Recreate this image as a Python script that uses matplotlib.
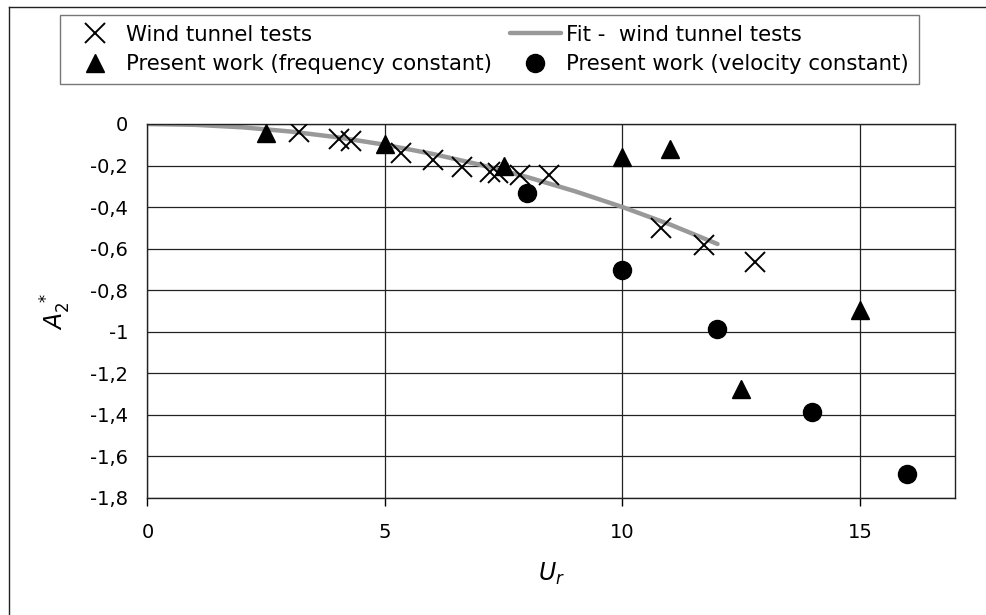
import matplotlib.pyplot as plt
from matplotlib.lines import Line2D

# Wind tunnel tests
wind_x = [3.18, 4.03, 4.28, 5.33, 6.02, 6.63, 7.22, 7.38, 7.84, 8.45, 10.82, 11.71, 12.8]
wind_y = [-0.04, -0.074, -0.08, -0.141, -0.173, -0.205, -0.23, -0.235, -0.246, -0.246, -0.50, -0.585, -0.665]

# Fit - wind tunnel tests
fit_x = [0, 1, 2, 3, 4, 5, 6, 7, 8, 9, 10, 11, 12]
fit_y = [0, -0.004, -0.016, -0.036, -0.064, -0.10, -0.144, -0.196, -0.256, -0.324, -0.40, -0.484, -0.578]

# Present work (frequency constant)
freq_x = [2.5, 5.0, 7.5, 10.0, 11.0, 12.5, 15.0]
freq_y = [-0.045, -0.098, -0.20, -0.157, -0.122, -1.278, -0.896]

# Present work (velocity constant)
vel_x = [8.0, 10.0, 12.0, 14.0, 16.0]
vel_y = [-0.334, -0.705, -0.986, -1.389, -1.688]

x_ticks = [0, 5, 10, 15]
y_ticks = [0, -0.2, -0.4, -0.6, -0.8, -1.0, -1.2, -1.4, -1.6, -1.8]
y_labels = ["0", "-0,2", "-0,4", "-0,6", "-0,8", "-1", "-1,2", "-1,4", "-1,6", "-1,8"]

plt.rcParams['font.family'] = 'DejaVu Sans'
W, H = 987, 615
fig = plt.figure(figsize=(W / 100, H / 100), dpi=100)
ax = fig.add_axes([147.5 / W, 1 - 497.7 / H, (955 - 147.5) / W, (497.7 - 124) / H])

fs = 14

fit_line, = ax.plot(fit_x, fit_y, color='#999999', linewidth=3.2, solid_capstyle='round', zorder=2)
wind_pts, = ax.plot(wind_x, wind_y, linestyle='none', marker='x', markersize=15,
                    markeredgewidth=1.4, color='black', zorder=3)
freq_pts, = ax.plot(freq_x, freq_y, linestyle='none', marker='^', markersize=12.5,
                    color='black', zorder=3)
vel_pts, = ax.plot(vel_x, vel_y, linestyle='none', marker='o', markersize=13,
                   color='black', zorder=3)

ax.set_xlim(0, 17)
ax.set_ylim(-1.8, 0)
ax.set_xticks(x_ticks)
ax.set_xticklabels([str(v) for v in x_ticks], fontsize=fs)
ax.set_yticks(y_ticks)
ax.set_yticklabels(y_labels, fontsize=fs)
ax.tick_params(axis='x', direction='out', length=6, width=1, pad=12)
ax.tick_params(axis='y', length=0, pad=14)

ax.grid(True, color='#222222', linewidth=0.9)
ax.set_axisbelow(True)
for s in ax.spines.values():
    s.set_color('#222222')
    s.set_linewidth(1)

ax.set_xlabel('$U_r$', fontsize=17, labelpad=14)
ax.set_ylabel('$A_2^{\\ *}$', fontsize=17, labelpad=12)

# legend, two columns
handles = [wind_pts, freq_pts, fit_line, vel_pts]
labels = ['Wind tunnel tests', 'Present work (frequency constant)',
          'Fit -  wind tunnel tests', 'Present work (velocity constant)']
leg = fig.legend(handles, labels, ncol=2, loc='upper left',
                 bbox_to_anchor=(60 / W, 1 - 15 / H), fontsize=15.3,
                 frameon=True, fancybox=False, framealpha=1, edgecolor='#777777',
                 handlelength=2.4, handletextpad=0.25, columnspacing=0.85,
                 labelspacing=0.45, borderpad=0.45, borderaxespad=0)
leg.get_frame().set_linewidth(1)

# outer chart frame (cut off at right and bottom)
fig.add_artist(Line2D([9 / W, 1], [1 - 7 / H, 1 - 7 / H], transform=fig.transFigure,
                      color='#222222', linewidth=1))
fig.add_artist(Line2D([9 / W, 9 / W], [0, 1 - 7 / H], transform=fig.transFigure,
                      color='#222222', linewidth=1))

fig.savefig('out.png', dpi=100)
